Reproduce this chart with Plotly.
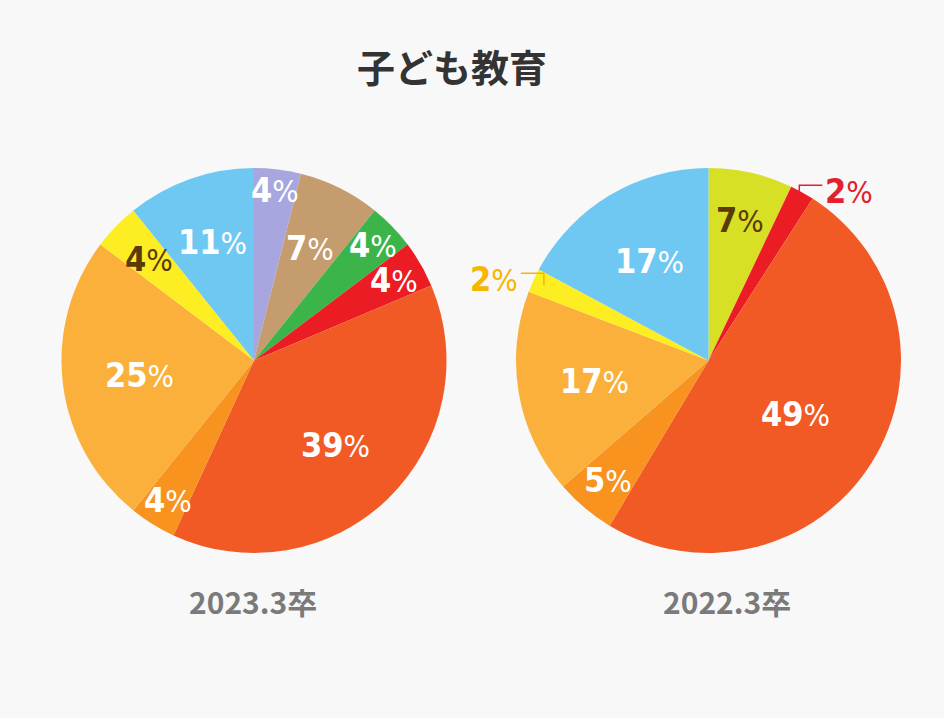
import math
import plotly.graph_objects as go

# ---- data ----
title_text = "子ども教育"
labels_2023 = ["A", "B", "C", "D", "E", "F", "G", "H", "I"]
values_2023 = [4, 7, 4, 4, 39, 4, 25, 4, 11]
colors_2023 = ["#A8A6DF", "#C59C6E", "#3BB54A", "#EC1C24", "#F15A25",
               "#F7931E", "#FBB03B", "#FCEE22", "#6EC8F2"]
labels_2022 = ["J", "D", "E", "F", "G", "H", "I"]
values_2022 = [7, 2, 49, 5, 17, 2, 17]
colors_2022 = ["#D7E024", "#EC1C24", "#F15A25", "#F7931E", "#FBB03B",
               "#FCEE22", "#6EC8F2"]
caption_2023 = "2023.3卒"
caption_2022 = "2022.3卒"

# ---- layout constants (pixels) ----
W, H = 944, 718
R = 192.5
C1 = (254.0, 360.5)
C2 = (708.5, 360.5)
BG = "#F8F8F8"
DARK = "#5B3A08"

# label radial fraction / style per slice
rf_2023 = [0.89, 0.655, 0.86, 0.84, 0.61, 0.85, 0.60, 0.76, 0.65]
tc_2023 = ["white", "white", "white", "white", "white", "white", "white", DARK, "white"]
rf_2022 = [0.75, None, 0.53, 0.81, 0.60, None, 0.60]
tc_2022 = [DARK, None, "white", "white", "white", None, "white"]


def px2paper(x, y):
    return x / W, 1 - y / H


def domain(c):
    x0, y0 = px2paper(c[0] - R, c[1] + R)
    x1, y1 = px2paper(c[0] + R, c[1] - R)
    return dict(x=[x0, x1], y=[y0, y1])


def mid_angles(vals):
    tot = sum(vals)
    out, cum = [], 0
    for v in vals:
        out.append((cum + v / 2) / tot * 2 * math.pi)
        cum += v
    return out


def polar(c, frac, ang):
    return c[0] + frac * R * math.sin(ang), c[1] - frac * R * math.cos(ang)


def label_html(v):
    return f"<b>{v}</b><span style='font-size:31px'>%</span>"


fig = go.Figure()
for labs, vals, cols, c in [(labels_2023, values_2023, colors_2023, C1),
                            (labels_2022, values_2022, colors_2022, C2)]:
    fig.add_trace(go.Pie(
        labels=labs, values=vals, sort=False, direction="clockwise", rotation=0,
        marker=dict(colors=cols, line=dict(width=0)), textinfo="none",
        hoverinfo="label+value", domain=domain(c), showlegend=False,
    ))

annotations = []
FONT = "'Liberation Sans Narrow', 'DejaVu Sans Condensed', Roboto, sans-serif"
FS = 34
for vals, rfs, tcs, c in [(values_2023, rf_2023, tc_2023, C1),
                          (values_2022, rf_2022, tc_2022, C2)]:
    angs = mid_angles(vals)
    for v, rf, tc, a in zip(vals, rfs, tcs, angs):
        if rf is None:
            continue
        x, y = polar(c, rf, a)
        px, py = px2paper(x, y)
        annotations.append(dict(x=px, y=py, xref="paper", yref="paper",
                                text=label_html(v), showarrow=False,
                                font=dict(family=FONT, size=FS, color=tc),
                                xanchor="center", yanchor="middle"))

# outside labels with elbow leader lines (2022 pie, 2% slices)
shapes = []
angs22 = mid_angles(values_2022)
for idx, col, txtcol, side in [(1, "#EC1C24", "#E5202E", 1), (5, "#F7B500", "#F7B500", -1)]:
    a = angs22[idx]
    frac = 0.97 if side == 1 else 0.94
    x0, y0 = polar(C2, frac, a)
    ye = y0 - 12
    xe = x0 + side * 23
    pts = [(x0, y0), (x0, ye), (xe, ye)]
    path = "M " + " L ".join(f"{px2paper(px_, py_)[0]},{px2paper(px_, py_)[1]}" for px_, py_ in pts)
    shapes.append(dict(type="path", path=path, xref="paper", yref="paper",
                       line=dict(color=col, width=1.5)))
    lx = xe + side * 27
    ly = ye + 6
    pxp, pyp = px2paper(lx, ly)
    annotations.append(dict(x=pxp, y=pyp, xref="paper", yref="paper",
                            text=label_html(values_2022[idx]), showarrow=False,
                            font=dict(family=FONT, size=FS, color=txtcol),
                            xanchor="center", yanchor="middle"))

# captions
for txt, cx in [(caption_2023, 253), (caption_2022, 727)]:
    pxp, pyp = px2paper(cx, 601)
    annotations.append(dict(x=pxp, y=pyp, xref="paper", yref="paper", text=txt,
                            showarrow=False,
                            font=dict(family="'Noto Sans CJK JP', sans-serif", size=30,
                                      color="#7A7A7A", weight=700),
                            xanchor="center", yanchor="middle"))

tx, ty = px2paper(452, 66)
annotations.append(dict(x=tx, y=ty, xref="paper", yref="paper", text=title_text,
                        showarrow=False,
                        font=dict(family="'Noto Sans CJK JP', sans-serif", size=38,
                                  color="#333333", weight=700),
                        xanchor="center", yanchor="middle"))

fig.update_layout(width=W, height=H, margin=dict(l=0, r=0, t=0, b=0),
                  paper_bgcolor=BG, plot_bgcolor=BG,
                  annotations=annotations, shapes=shapes)
fig.write_html("out.html")
